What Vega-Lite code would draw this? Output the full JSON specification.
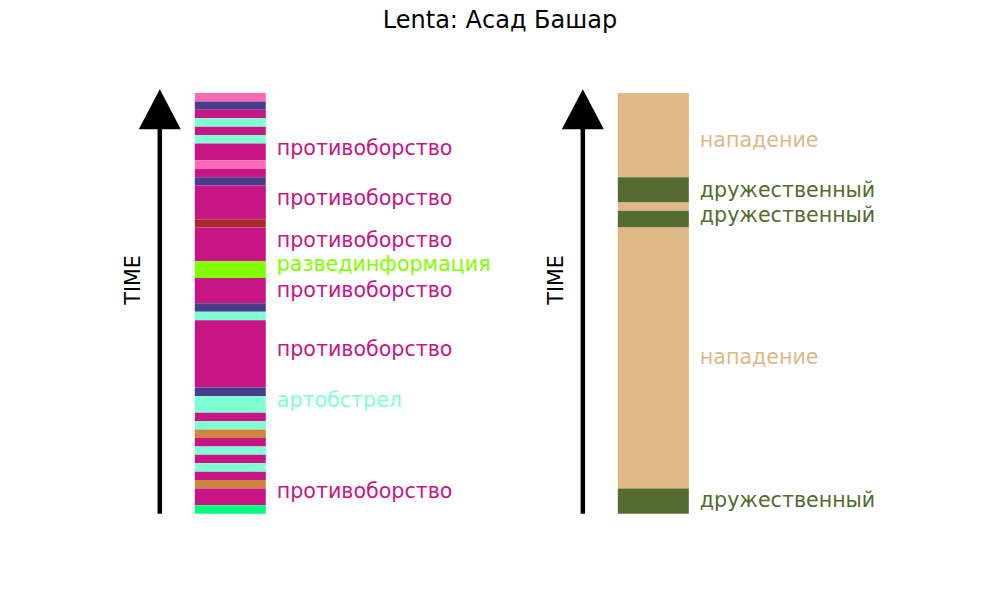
{
  "$schema": "https://vega.github.io/schema/vega-lite/v6.json",
  "width": 1000,
  "height": 600,
  "padding": 0,
  "autosize": {"type": "none"},
  "background": "white",
  "title": {"text": "Lenta: Асад Башар", "font": "DejaVu Sans", "fontSize": 24, "fontWeight": "normal", "color": "black", "anchor": "middle", "baseline": "alphabetic", "offset": -31.7, "dy": 20},
  "config": {"view": {"stroke": null}},
  "datasets": {
    "segments": [
      {"panel": "A", "start": 49, "end": 50, "cat": "прочее 1"},
      {"panel": "A", "start": 48, "end": 49, "cat": "прочее 2"},
      {"panel": "A", "start": 47, "end": 48, "cat": "противоборство"},
      {"panel": "A", "start": 46, "end": 47, "cat": "артобстрел"},
      {"panel": "A", "start": 45, "end": 46, "cat": "противоборство"},
      {"panel": "A", "start": 44, "end": 45, "cat": "артобстрел"},
      {"panel": "A", "start": 42, "end": 44, "cat": "противоборство"},
      {"panel": "A", "start": 41, "end": 42, "cat": "прочее 1"},
      {"panel": "A", "start": 40, "end": 41, "cat": "противоборство"},
      {"panel": "A", "start": 39, "end": 40, "cat": "прочее 2"},
      {"panel": "A", "start": 35, "end": 39, "cat": "противоборство"},
      {"panel": "A", "start": 34, "end": 35, "cat": "прочее 3"},
      {"panel": "A", "start": 30, "end": 34, "cat": "противоборство"},
      {"panel": "A", "start": 28, "end": 30, "cat": "развединформация"},
      {"panel": "A", "start": 25, "end": 28, "cat": "противоборство"},
      {"panel": "A", "start": 24, "end": 25, "cat": "прочее 2"},
      {"panel": "A", "start": 23, "end": 24, "cat": "артобстрел"},
      {"panel": "A", "start": 15, "end": 23, "cat": "противоборство"},
      {"panel": "A", "start": 14, "end": 15, "cat": "прочее 2"},
      {"panel": "A", "start": 12, "end": 14, "cat": "артобстрел"},
      {"panel": "A", "start": 11, "end": 12, "cat": "противоборство"},
      {"panel": "A", "start": 10, "end": 11, "cat": "артобстрел"},
      {"panel": "A", "start": 9, "end": 10, "cat": "прочее 4"},
      {"panel": "A", "start": 8, "end": 9, "cat": "противоборство"},
      {"panel": "A", "start": 7, "end": 8, "cat": "артобстрел"},
      {"panel": "A", "start": 6, "end": 7, "cat": "противоборство"},
      {"panel": "A", "start": 5, "end": 6, "cat": "артобстрел"},
      {"panel": "A", "start": 4, "end": 5, "cat": "противоборство"},
      {"panel": "A", "start": 3, "end": 4, "cat": "прочее 4"},
      {"panel": "A", "start": 1, "end": 3, "cat": "противоборство"},
      {"panel": "A", "start": 0, "end": 1, "cat": "прочее 5"},
      {"panel": "B", "start": 40, "end": 50, "cat": "нападение"},
      {"panel": "B", "start": 37, "end": 40, "cat": "дружественный"},
      {"panel": "B", "start": 36, "end": 37, "cat": "нападение"},
      {"panel": "B", "start": 34, "end": 36, "cat": "дружественный"},
      {"panel": "B", "start": 3, "end": 34, "cat": "нападение"},
      {"panel": "B", "start": 0, "end": 3, "cat": "дружественный"}
    ],
    "labels": [
      {"panel": "A", "t": 43.3, "label": "противоборство", "cat": "противоборство"},
      {"panel": "A", "t": 37.45, "label": "противоборство", "cat": "противоборство"},
      {"panel": "A", "t": 32.42, "label": "противоборство", "cat": "противоборство"},
      {"panel": "A", "t": 29.6, "label": "развединформация", "cat": "развединформация"},
      {"panel": "A", "t": 26.45, "label": "противоборство", "cat": "противоборство"},
      {"panel": "A", "t": 19.45, "label": "противоборство", "cat": "противоборство"},
      {"panel": "A", "t": 13.45, "label": "артобстрел", "cat": "артобстрел"},
      {"panel": "A", "t": 2.55, "label": "противоборство", "cat": "противоборство"},
      {"panel": "B", "t": 44.35, "label": "нападение", "cat": "нападение"},
      {"panel": "B", "t": 38.4, "label": "дружественный", "cat": "дружественный"},
      {"panel": "B", "t": 35.42, "label": "дружественный", "cat": "дружественный"},
      {"panel": "B", "t": 18.5, "label": "нападение", "cat": "нападение"},
      {"panel": "B", "t": 1.5, "label": "дружественный", "cat": "дружественный"}
    ],
    "axislabels": [
      {"panel": "A", "t": 27.78, "text": "TIME"},
      {"panel": "B", "t": 27.78, "text": "TIME"}
    ]
  },
  "encoding": {
    "x": {"field": "panel", "type": "nominal", "axis": null,
          "scale": {"type": "band", "domain": ["A", "B"], "paddingInner": 0.8322, "paddingOuter": 0.598, "align": 0.385}}
  },
  "layer": [
    {
      "data": {"name": "segments"},
      "mark": {"type": "bar"},
      "encoding": {
        "y": {"field": "start", "type": "quantitative", "axis": null, "scale": {"domain": [-10.257, 61.053], "nice": false, "zero": false}},
        "y2": {"field": "end"},
        "color": {"field": "cat", "type": "nominal", "legend": null,
          "scale": {
            "domain": ["противоборство", "артобстрел", "развединформация", "прочее 1", "прочее 2", "прочее 3", "прочее 4", "прочее 5", "нападение", "дружественный"],
            "range": ["#C71585", "#7FFFD4", "#7FFF00", "#FF69B4", "#483D8B", "#A52A2A", "#CD853F", "#00FF7F", "#DEB887", "#556B2F"]
          }}
      }
    },
    {
      "data": {"name": "segments"},
      "transform": [{"aggregate": [{"op": "min", "field": "start", "as": "t0"}, {"op": "max", "field": "end", "as": "t1"}], "groupby": ["panel"]}],
      "mark": {"type": "rule", "color": "black", "strokeWidth": 4.5, "xOffset": -70.5, "y2Offset": 30},
      "encoding": {
        "y": {"field": "t0", "type": "quantitative"},
        "y2": {"field": "t1"}
      }
    },
    {
      "data": {"name": "segments"},
      "transform": [{"aggregate": [{"op": "max", "field": "end", "as": "t1"}], "groupby": ["panel"]}],
      "mark": {"type": "point", "shape": "M0,-0.95L1,0.95L-1,0.95Z", "size": 1764, "filled": true, "color": "black", "opacity": 1, "strokeWidth": 0, "xOffset": -70.5, "yOffset": 16.2},
      "encoding": {
        "y": {"field": "t1", "type": "quantitative"}
      }
    },
    {
      "data": {"name": "labels"},
      "mark": {"type": "text", "align": "left", "baseline": "middle", "xOffset": 46.5, "font": "DejaVu Sans", "fontSize": 20.6},
      "encoding": {
        "y": {"field": "t", "type": "quantitative"},
        "text": {"field": "label"},
        "color": {"field": "cat", "type": "nominal"}
      }
    },
    {
      "data": {"name": "axislabels"},
      "mark": {"type": "text", "align": "center", "baseline": "alphabetic", "angle": 270, "xOffset": -90.5, "font": "DejaVu Sans", "fontSize": 20.6, "color": "black"},
      "encoding": {
        "y": {"field": "t", "type": "quantitative"},
        "text": {"field": "text"}
      }
    }
  ]
}
